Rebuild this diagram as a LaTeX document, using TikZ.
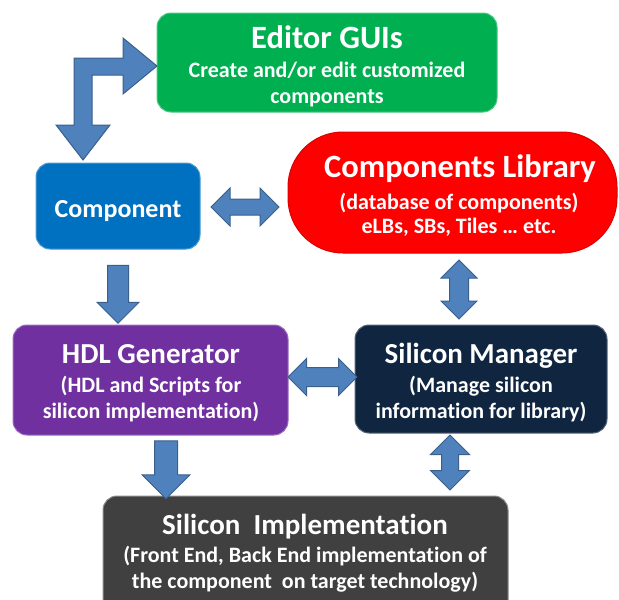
\documentclass[tikz,border=0pt]{standalone}
\usepackage{fontspec}
\newfontfamily\cf[Ligatures=NoCommon]{Carlito}
\usetikzlibrary{shapes.arrows}
\definecolor{arrowF}{HTML}{4F81BD}
\definecolor{arrowB}{HTML}{3A5F8B}
\definecolor{cGreen}{HTML}{00B050}
\definecolor{cBlue}{HTML}{0070C0}
\definecolor{cRed}{HTML}{FF0000}
\definecolor{cPurple}{HTML}{7030A0}
\definecolor{cNavy}{HTML}{10253F}
\definecolor{cGray}{HTML}{404040}
\tikzset{
  box/.style={rectangle, rounded corners=14pt, line width=1pt, inner sep=0pt},
  txt/.style={anchor=base, text=white, inner sep=0pt, font=\cf\bfseries},
  ttl/.style={txt, font=\cf\bfseries\fontsize{29}{29}\selectfont},
  sub/.style={txt, font=\cf\bfseries\fontsize{22}{22}\selectfont},
  barrow/.style={draw=arrowB, fill=arrowF, line width=1pt, single arrow head indent=0pt, double arrow head indent=0pt},
}
\begin{document}
\begin{tikzpicture}[x=1pt,y=-1pt]
\useasboundingbox (0,0) rectangle (619,600);
% boxes
\node[box, fill=cGreen, draw=cGreen!70!white, minimum width=340pt, minimum height=99pt] (edit) at (327,62.5) {};
\node[box, fill=cBlue, draw=cBlue!70!white, minimum width=164pt, minimum height=86pt] (comp) at (118,206) {};
\node[box, fill=cRed, draw=cRed!85!black, rounded corners=55pt, minimum width=329pt, minimum height=121pt] (lib) at (452.5,192.5) {};
\node[box, fill=cPurple, draw=cPurple!70!white, minimum width=275pt, minimum height=110pt] (hdl) at (150.5,380) {};
\node[box, fill=cNavy, draw=cNavy!70!white, minimum width=252pt, minimum height=108pt] (sm) at (481,379) {};
\node[box, fill=cGray, draw=cGray!60!white, minimum width=405pt, minimum height=120pt] (impl) at (305.5,556) {};
% texts
\node[txt, font=\cf\bfseries\fontsize{32.5}{32.5}\selectfont] (editT) at (327,48) {Editor GUIs};
\node[sub] (editS1) at (327,77) {Create and/or edit customized};
\node[sub] (editS2) at (327,103) {components};
\node[txt, font=\cf\bfseries\fontsize{26}{26}\selectfont] (compT) at (118,217) {Component};
\node[txt, font=\cf\bfseries\fontsize{32.5}{32.5}\selectfont] (libT) at (460,177) {Components Library};
\node[sub] (libS1) at (459,209) {(database of components)};
\node[sub] (libS2) at (459,233) {eLBs, SBs, Tiles … etc.};
\node[ttl] (hdlT) at (151,363) {HDL Generator};
\node[sub] (hdlS1) at (151,392) {(HDL and Scripts for};
\node[sub] (hdlS2) at (151,418) {silicon implementation)};
\node[ttl] (smT) at (481,363) {Silicon Manager};
\node[sub] (smS1) at (481,392) {(Manage silicon};
\node[sub] (smS2) at (481,418) {information for library)};
\node[ttl] (implT) at (305,534) {Silicon\ \ Implementation};
\node[sub] (implS1) at (305,562) {(Front End, Back End implementation of};
\node[sub] (implS2) at (305,588) {the component\ \ on target technology)};
% elbow arrow editor <-> component
\draw[barrow] (74,125) -- (74,58) -- (123,58) -- (123,38) -- (157,66) -- (123,94) -- (123,75) -- (92,75) -- (92,125) -- (110,125) -- (83,160) -- (56,125) -- cycle;
% block arrows
\node[double arrow, barrow, inner sep=7.5pt, minimum height=68pt, minimum width=37pt, double arrow head extend=11pt] (a2) at (245,207) {};
\node[single arrow, barrow, inner sep=10pt, minimum height=58pt, minimum width=41pt, single arrow head extend=10.5pt, shape border rotate=270] (a3) at (118,289) {};
\node[double arrow, barrow, inner sep=9pt, minimum height=59pt, minimum width=35pt, double arrow head extend=8.5pt, shape border rotate=90] (a4) at (459,289.5) {};
\node[double arrow, barrow, inner sep=9pt, minimum height=69pt, minimum width=36pt, double arrow head extend=9pt] (a5) at (322.5,377) {};
\node[single arrow, barrow, inner sep=11pt, minimum height=58pt, minimum width=47pt, single arrow head extend=12.5pt, shape border rotate=270] (a6) at (166,464) {};
\node[double arrow, barrow, inner sep=8pt, minimum height=55pt, minimum width=38pt, double arrow head extend=11pt, shape border rotate=90] (a7) at (450,462.5) {};
\end{tikzpicture}
\end{document}
